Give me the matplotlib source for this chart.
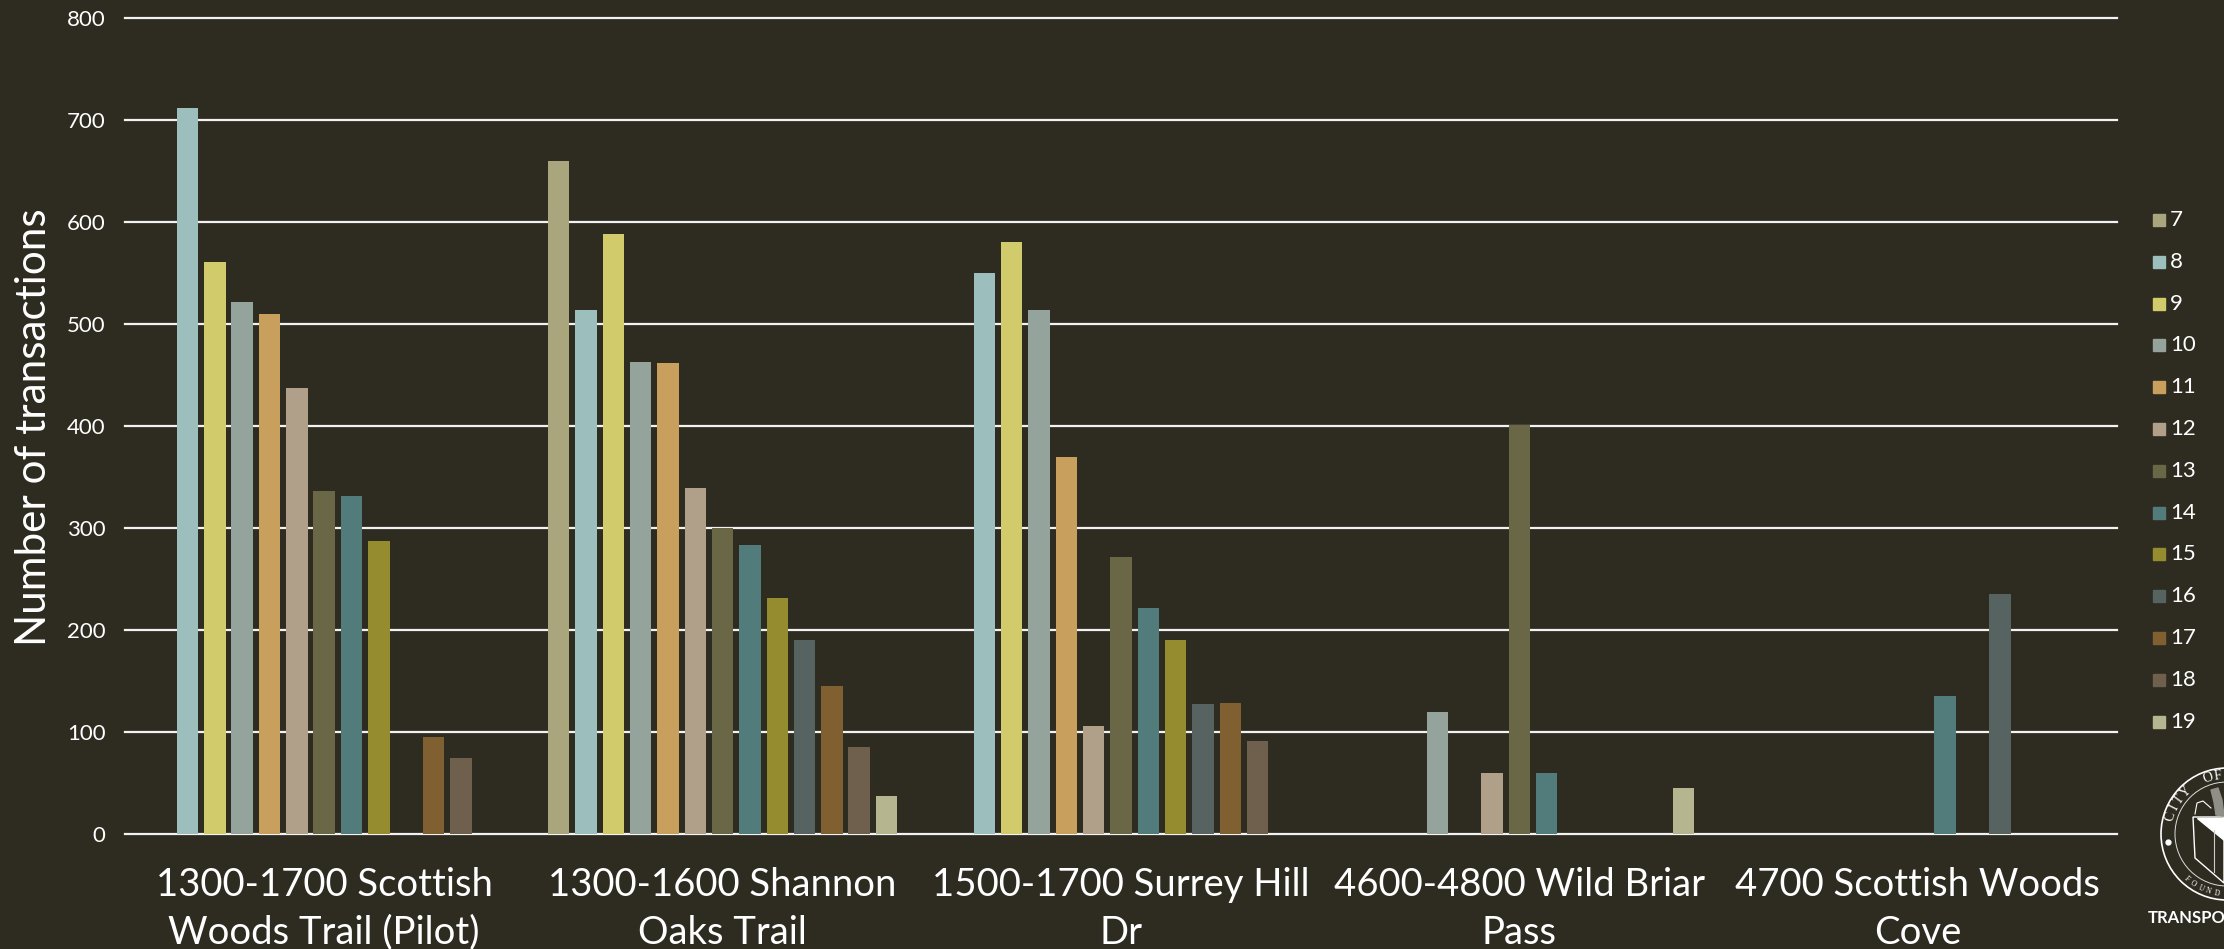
import matplotlib
matplotlib.use('Agg')
import matplotlib.pyplot as plt
from matplotlib.patches import Circle, Polygon, Rectangle
import numpy as np

plt.rcParams['font.family'] = ['Lato', 'DejaVu Sans']

bg = '#2e2b21'

categories = ['1300-1700 Scottish\nWoods Trail (Pilot)', '1300-1600 Shannon\nOaks Trail',
              '1500-1700 Surrey Hill\nDr', '4600-4800 Wild Briar\nPass', '4700 Scottish Woods\nCove']
hours = ['7', '8', '9', '10', '11', '12', '13', '14', '15', '16', '17', '18', '19']
colours = ['#a9a57c', '#9cbebd', '#d2cb6c', '#95a39d', '#c89f5d', '#b1a089',
           '#6a6747', '#527c7c', '#948c2f', '#566361', '#806030', '#6f5f4d', '#b5b68f']

h7 = [0, 660, 0, 0, 0]
h8 = [712, 514, 550, 0, 0]
h9 = [561, 588, 580, 0, 0]
h10 = [522, 463, 514, 120, 0]
h11 = [510, 462, 370, 0, 0]
h12 = [437, 339, 106, 60, 0]
h13 = [336, 300, 272, 401, 0]
h14 = [331, 283, 222, 60, 135]
h15 = [287, 231, 190, 0, 0]
h16 = [0, 190, 127, 0, 235]
h17 = [95, 145, 128, 0, 0]
h18 = [75, 85, 91, 0, 0]
h19 = [0, 37, 0, 45, 0]
series = [h7, h8, h9, h10, h11, h12, h13, h14, h15, h16, h17, h18, h19]

W, H = 2224, 949
fig = plt.figure(figsize=(W / 100, H / 100), dpi=100, facecolor=bg)
ax = fig.add_axes([125 / W, 1 - 834 / H, (2117 - 125) / W, (834 - 18) / H], facecolor=bg)

x = np.arange(len(categories))
pitch = 0.0686
for i, vals in enumerate(series):
    ax.bar(x + (i - 6) * pitch, vals, width=0.054, color=colours[i], zorder=3, label=hours[i])

ax.set_xlim(-0.5, 4.5)
ax.set_ylim(0, 800)
ax.set_yticks(range(0, 801, 100))
ax.grid(axis='y', color='#f2f2f2', linewidth=1.6, zorder=1, clip_on=False)
ax.set_axisbelow(True)
for s in ax.spines.values():
    s.set_visible(False)
ax.tick_params(axis='y', length=0, pad=14, labelsize=16, labelcolor='white')
ax.tick_params(axis='x', length=0, pad=24, labelsize=27.5, labelcolor='white')
ax.set_xticks(x)
ax.set_xticklabels(categories, linespacing=1.39)

fig.text(34 / W, 1 - 427 / H, 'Number of transactions', rotation=90, color='white',
         fontsize=30.4, ha='center', va='center')

# legend by hand so the spacing follows the reference
for i, h in enumerate(hours):
    y = 220 + i * 41.8
    fig.add_artist(Rectangle((2153 / W, 1 - (y + 6) / H), 12 / W, 12 / H, color=colours[i],
                             transform=fig.transFigure))
    fig.text(2170 / W, 1 - y / H, h, color='white', fontsize=16, va='center', ha='left')

# city seal, runs off the right edge
px = fig.add_axes([0, 0, 1, 1], facecolor='none')
px.set_xlim(0, W)
px.set_ylim(H, 0)
px.axis('off')
cx, cy = 2227, 834
px.add_patch(Circle((cx, cy), 66, fill=False, ec='white', lw=1.2))
px.add_patch(Circle((cx, cy), 52, fill=False, ec='#dddddd', lw=0.7))
px.add_patch(Polygon([(2193, 817), (2224, 817), (2224, 883), (2195, 858)], fill=False, ec='white', lw=1))
px.add_patch(Polygon([(2197, 818), (2224, 818), (2224, 840)], color='white'))
px.plot([2214, 2214], [830, 872], color='#cccccc', lw=0.8)
px.plot([2195, 2197, 2203, 2211], [814, 803, 801, 808], color='white', lw=0.8)
px.add_patch(Polygon([(2211, 790), (2218, 788), (2222, 800), (2224, 816), (2216, 815), (2214, 802)],
                     color='#8f8f88'))
px.plot(2168, 842, 'o', color='white', ms=3.5)
for ch, ang in zip('CITYOF', [163, 153, 144, 134, 109, 99]):
    a = np.deg2rad(ang)
    px.text(cx + 59 * np.cos(a), cy - 59 * np.sin(a), ch, color='white', fontsize=10,
            family='Liberation Serif', rotation=ang - 90, ha='center', va='center')
for ch, ang in zip('FOUND', [228, 236, 244, 252, 260]):
    a = np.deg2rad(ang)
    px.text(cx + 60 * np.cos(a), cy - 60 * np.sin(a), ch, color='white', fontsize=5.5,
            family='Liberation Serif', rotation=ang + 90, ha='center', va='center')
px.text(2148, 918, 'TRANSPO', color='white', fontsize=12, family='Lato', weight='bold',
        ha='left', va='center')

fig.savefig('out.png', dpi=100, facecolor=bg)
